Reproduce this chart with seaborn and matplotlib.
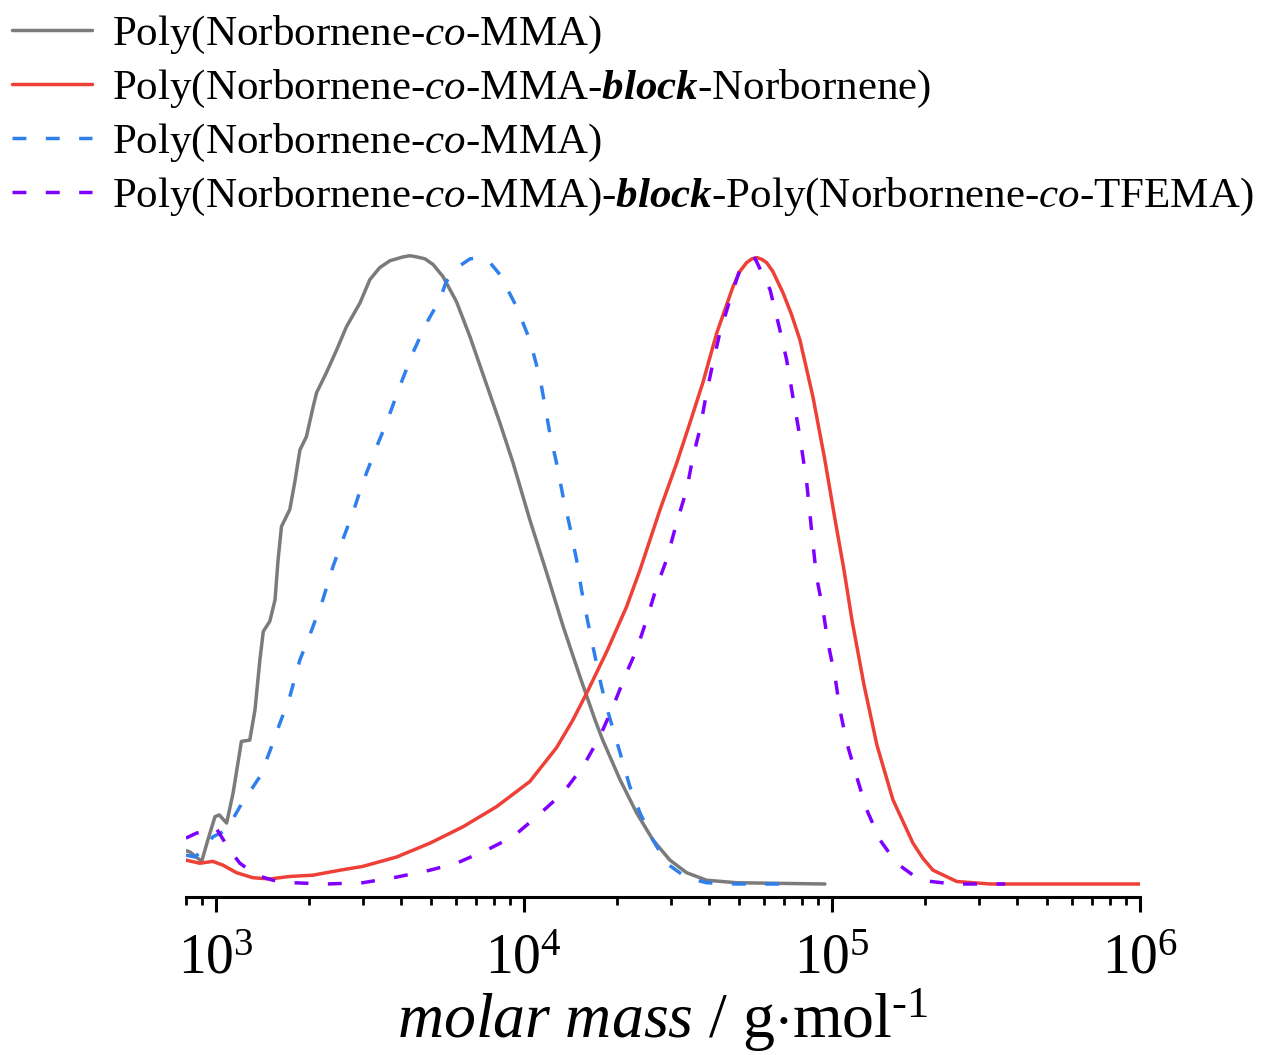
import numpy as np
import pandas as pd
import matplotlib
matplotlib.use("Agg")
import matplotlib.pyplot as plt
from matplotlib.ticker import LogLocator, LogFormatterSciNotation, NullFormatter
import seaborn as sns

# GPC traces: log10 of molar mass (g/mol) and normalised detector signal
logM_A = [2.903, 2.916, 2.954, 2.974, 2.997, 3.011, 3.035, 3.056, 3.083, 3.110,
          3.127, 3.143, 3.154, 3.175, 3.192, 3.202, 3.213, 3.240, 3.256, 3.273,
          3.294, 3.316, 3.327, 3.359, 3.392, 3.424, 3.468, 3.500, 3.532, 3.565,
          3.607, 3.630, 3.653, 3.679, 3.705, 3.737, 3.781, 3.825, 3.873, 3.922,
          3.965, 4.019, 4.074, 4.128, 4.182, 4.231, 4.256, 4.312, 4.366, 4.419,
          4.474, 4.528, 4.593, 4.691, 4.977]
w_A = [0.053, 0.051, 0.036, 0.070, 0.107, 0.110, 0.097, 0.145, 0.227, 0.229,
       0.277, 0.357, 0.402, 0.418, 0.452, 0.516, 0.569, 0.596, 0.639, 0.691,
       0.712, 0.760, 0.782, 0.814, 0.850, 0.887, 0.925, 0.962, 0.981, 0.992,
       0.998, 1.000, 0.998, 0.995, 0.986, 0.967, 0.927, 0.871, 0.803, 0.734,
       0.670, 0.580, 0.495, 0.409, 0.330, 0.261, 0.229, 0.166, 0.113, 0.070,
       0.038, 0.018, 0.006, 0.002, 0.000]

logM_B = [2.903, 2.948, 2.990, 3.023, 3.067, 3.120, 3.175, 3.240, 3.315, 3.403,
          3.477, 3.587, 3.695, 3.802, 3.911, 4.019, 4.106, 4.159, 4.204, 4.269,
          4.333, 4.377, 4.442, 4.496, 4.539, 4.581, 4.626, 4.679, 4.701, 4.723,
          4.740, 4.757, 4.773, 4.788, 4.808, 4.841, 4.869, 4.896, 4.938, 4.977,
          5.010, 5.039, 5.065, 5.104, 5.146, 5.198, 5.263, 5.295, 5.328, 5.405,
          5.513, 6.000]
w_B = [0.038, 0.033, 0.036, 0.030, 0.018, 0.010, 0.008, 0.012, 0.014, 0.022,
       0.028, 0.043, 0.065, 0.091, 0.123, 0.163, 0.217, 0.261, 0.304, 0.370,
       0.441, 0.500, 0.596, 0.670, 0.734, 0.798, 0.877, 0.951, 0.975, 0.989,
       0.995, 0.997, 0.994, 0.989, 0.975, 0.941, 0.906, 0.866, 0.776, 0.675,
       0.580, 0.500, 0.420, 0.317, 0.221, 0.134, 0.065, 0.041, 0.022, 0.004,
       0.000, 0.000]

logM_C = [2.903, 2.932, 2.964, 2.990, 3.035, 3.078, 3.143, 3.175, 3.208, 3.240,
          3.273, 3.311, 3.347, 3.380, 3.412, 3.445, 3.477, 3.522, 3.554, 3.597,
          3.640, 3.684, 3.727, 3.748, 3.792, 3.825, 3.857, 3.890, 3.922, 3.976,
          4.019, 4.052, 4.084, 4.106, 4.127, 4.149, 4.171, 4.187, 4.208, 4.231,
          4.252, 4.274, 4.312, 4.344, 4.377, 4.419, 4.463, 4.528, 4.593, 4.691,
          4.880]
w_C = [0.046, 0.043, 0.057, 0.075, 0.086, 0.123, 0.171, 0.211, 0.256, 0.298,
       0.357, 0.404, 0.452, 0.505, 0.548, 0.591, 0.639, 0.696, 0.734, 0.792,
       0.846, 0.893, 0.930, 0.959, 0.984, 0.995, 0.997, 0.989, 0.970, 0.919,
       0.866, 0.806, 0.718, 0.670, 0.617, 0.569, 0.516, 0.468, 0.416, 0.362,
       0.314, 0.272, 0.209, 0.155, 0.113, 0.070, 0.033, 0.010, 0.002, 0.000,
       0.000]

logM_D = [2.903, 2.937, 3.002, 3.045, 3.078, 3.132, 3.185, 3.250, 3.359, 3.477,
          3.587, 3.695, 3.781, 3.879, 3.964, 4.041, 4.127, 4.192, 4.247, 4.289,
          4.333, 4.366, 4.398, 4.431, 4.463, 4.496, 4.528, 4.549, 4.571, 4.593,
          4.614, 4.636, 4.669, 4.701, 4.750, 4.799, 4.831, 4.853, 4.873, 4.896,
          4.918, 4.938, 4.950, 4.971, 4.987, 5.010, 5.026, 5.048, 5.080, 5.113,
          5.156, 5.210, 5.286, 5.393, 5.562]
w_D = [0.073, 0.081, 0.088, 0.054, 0.033, 0.014, 0.006, 0.002, 0.000, 0.002,
       0.011, 0.022, 0.033, 0.054, 0.075, 0.107, 0.145, 0.187, 0.235, 0.282,
       0.336, 0.373, 0.420, 0.473, 0.516, 0.575, 0.627, 0.680, 0.723, 0.782,
       0.830, 0.877, 0.930, 0.978, 0.996, 0.946, 0.882, 0.834, 0.776, 0.712,
       0.639, 0.543, 0.489, 0.436, 0.384, 0.330, 0.277, 0.225, 0.171, 0.118,
       0.070, 0.033, 0.006, 0.000, 0.000]

labels = [
    r"Poly(Norbornene-$\mathit{co}$-MMA)",
    r"Poly(Norbornene-$\mathit{co}$-MMA-$\mathbfit{block}$-Norbornene)",
    r"Poly(Norbornene-$\mathit{co}$-MMA)",
    r"Poly(Norbornene-$\mathit{co}$-MMA)-$\mathbfit{block}$-Poly(Norbornene-$\mathit{co}$-TFEMA)",
]
colors = ["#7b7b7b", "#ee4037", "#2f80ec", "#8000ff"]
dashed = (0, (4.0, 5.6))
styles = ["-", "-", dashed, dashed]

sns.set_theme(style="white")
plt.rcParams["font.family"] = ["Liberation Serif", "DejaVu Serif"]
plt.rcParams["mathtext.fontset"] = "custom"
plt.rcParams["mathtext.rm"] = "Liberation Serif"
plt.rcParams["mathtext.it"] = "Liberation Serif:italic"
plt.rcParams["mathtext.bf"] = "Liberation Serif:bold"
plt.rcParams["mathtext.bfit"] = "Liberation Serif:italic:bold"
plt.rcParams["text.color"] = "black"
plt.rcParams["axes.labelcolor"] = "black"
plt.rcParams["xtick.color"] = "black"

fig = plt.figure(figsize=(12.65, 10.55), dpi=100)
ax = fig.add_axes([186 / 1265, 1 - 897 / 1055, (1140 - 186) / 1265, (897 - 240) / 1055])

series = [(logM_A, w_A), (logM_B, w_B), (logM_C, w_C), (logM_D, w_D)]
for (lm, w), lab, col, ls in zip(series, labels, colors, styles):
    df = pd.DataFrame({"M": np.power(10.0, lm), "w": w})
    sns.lineplot(data=df, x="M", y="w", ax=ax, color=col, lw=2.5,
                 linestyle=ls, label=lab, errorbar=None, sort=False)

ax.set_xscale("log")
ax.set_xlim(800, 1e6)
ax.set_ylim(-0.0207, 1.025)

for side in ["left", "right", "top"]:
    ax.spines[side].set_visible(False)
ax.spines["bottom"].set_linewidth(2.2)
ax.spines["bottom"].set_color("black")
ax.set_yticks([])
ax.set_ylabel("")

ax.xaxis.set_major_locator(LogLocator(base=10))
ax.xaxis.set_minor_locator(LogLocator(base=10, subs=np.arange(2, 10)))
ax.xaxis.set_major_formatter(LogFormatterSciNotation())
ax.xaxis.set_minor_formatter(NullFormatter())
ax.tick_params(axis="x", which="major", direction="out", length=11, width=2.2,
               color="black", labelcolor="black", labelsize=40, pad=15, bottom=True)
ax.tick_params(axis="x", which="minor", direction="out", length=6, width=2.0,
               color="black", bottom=True)

ax.set_xlabel(r"$\mathit{molar\ mass}$ / g$\cdot$mol$^{\text{-1}}$", fontsize=46,
              labelpad=1, color="black")

handles, labs = ax.get_legend_handles_labels()
leg = ax.legend(handles, labs, loc="upper left", bbox_to_anchor=(12 / 1265, 1 - 14 / 1055),
                bbox_transform=fig.transFigure, frameon=False, fontsize=31,
                borderpad=0, borderaxespad=0, handlelength=1.86, handletextpad=0.47,
                labelspacing=0.28)
for t in leg.get_texts():
    t.set_color("black")

fig.savefig("out.png", dpi=100)
